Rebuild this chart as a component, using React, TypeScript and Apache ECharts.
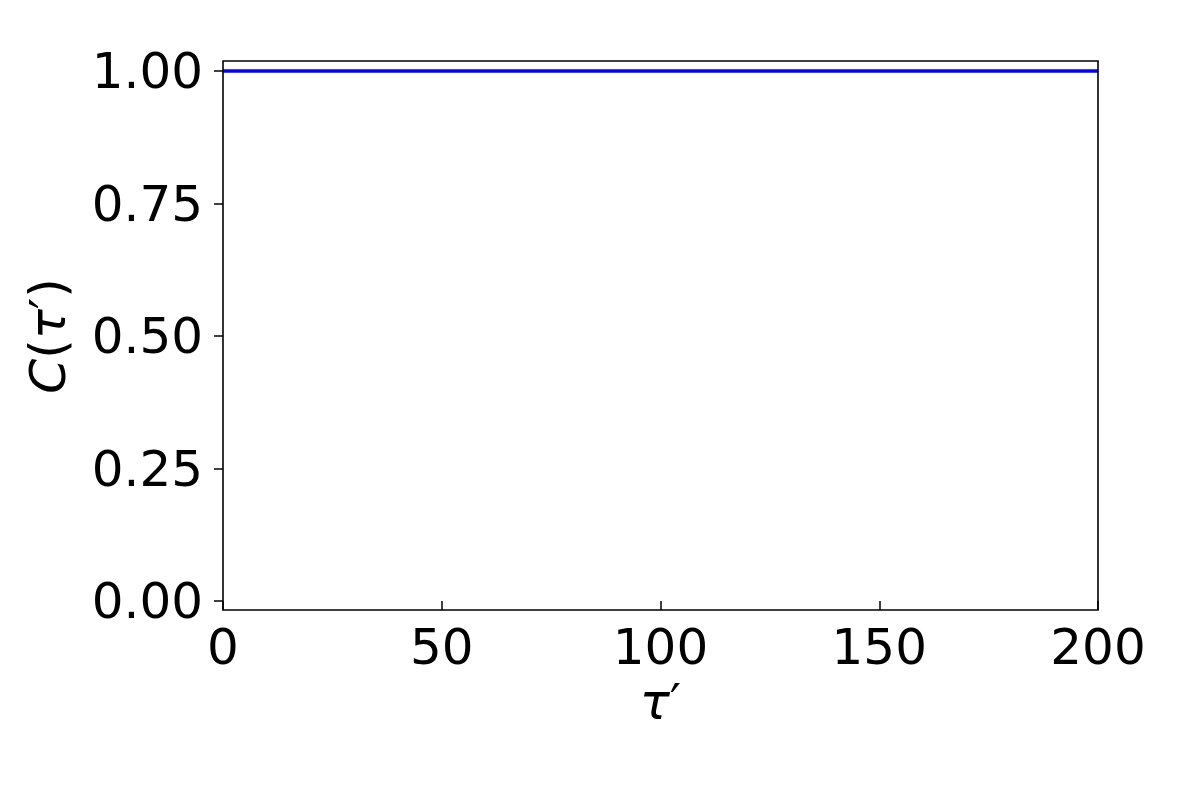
import React, { useEffect, useRef } from "react";
import * as echarts from "echarts";

const tau = [0, 25, 50, 75, 100, 125, 150, 175, 200];
const corr = [1, 1, 1, 1, 1, 1, 1, 1, 1];
const yTicks = [0, 0.25, 0.5, 0.75, 1];

const FONT = "DejaVu Sans";

export default function App() {
  const ref = useRef<HTMLDivElement>(null);
  useEffect(() => {
    const chart = echarts.init(ref.current!, null, { renderer: "svg" });
    const left = 223, right = 1098, top = 71, bottom = 601;
    chart.setOption({
      animation: false,
      backgroundColor: "#ffffff",
      grid: { left, right: 1200 - right, top, bottom: 800 - bottom, containLabel: false },
      xAxis: {
        type: "value",
        min: 0,
        max: 200,
        interval: 50,
        offset: 9,
        axisLine: { show: false },
        axisTick: { show: true, length: 9, lineStyle: { color: "#000", width: 1.5 } },
        axisLabel: { color: "#000", fontFamily: FONT, fontSize: 50, margin: 12 },
        splitLine: { show: false },
        name: "{i|τ}′",
        nameLocation: "middle",
        nameGap: 66,
        nameTextStyle: {
          color: "#000", fontFamily: FONT, fontSize: 50,
          rich: { i: { fontStyle: "italic", fontFamily: FONT, fontSize: 50, color: "#000" } },
        },
      },
      yAxis: {
        type: "value",
        min: 0,
        max: 1,
        interval: 0.25,
        axisLine: { show: false },
        axisTick: { show: true, length: 9, lineStyle: { color: "#000", width: 1.5 } },
        axisLabel: {
          color: "#000", fontFamily: FONT, fontSize: 50, margin: 20,
          formatter: (v: number) => (yTicks.includes(v) ? v.toFixed(2) : ""),
        },
        splitLine: { show: false },
        name: "{i|C}({i|τ}′)",
        nameLocation: "middle",
        nameGap: 150,
        nameTextStyle: {
          color: "#000", fontFamily: FONT, fontSize: 50,
          rich: { i: { fontStyle: "italic", fontFamily: FONT, fontSize: 50, color: "#000" } },
        },
      },
      graphic: [
        {
          type: "rect",
          shape: { x: 223, y: 61, width: 875, height: 549 },
          style: { fill: "none", stroke: "#000", lineWidth: 1.6 },
          z: 100,
          silent: true,
        },
      ],
      series: [
        {
          type: "line",
          data: tau.map((t, i) => [t, corr[i]]),
          showSymbol: false,
          clip: false,
          lineStyle: { color: "#0000ff", width: 3.5 },
        },
      ],
    });
    return () => chart.dispose();
  }, []);
  return (
    <div
      ref={ref}
      style={{ position: "absolute", left: 0, top: 0, width: 1200, height: 800 }}
    />
  );
}
